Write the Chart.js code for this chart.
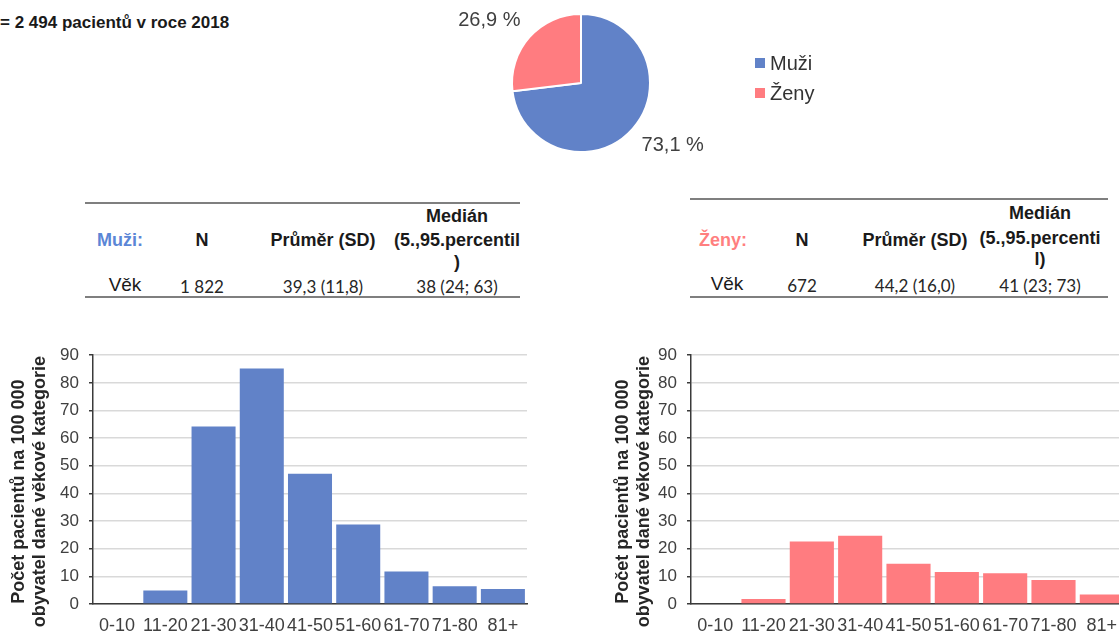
<!DOCTYPE html>
<html lang="cs">
<head>
<meta charset="utf-8">
<title>Pacienti podle pohlaví a věku 2018</title>
<script src="https://cdn.jsdelivr.net/npm/chart.js@4/dist/chart.umd.min.js"></script>
<style>
  html, body { margin: 0; padding: 0; width: 1119px; height: 633px; overflow: hidden; background: #fff; }
  body { position: relative; font-family: "Liberation Sans", Arial, Helvetica, sans-serif; color: #1a1a1a; }
  canvas { position: absolute; }
  .note { position: absolute; left: 0; top: 12px; font-size: 17px; font-weight: bold; white-space: nowrap; line-height: 22px; }
  .tbl { position: absolute; overflow: hidden; }
  .rule { position: absolute; height: 2px; background: #7f7f7f; }
  .c { position: absolute; width: 300px; height: 24px; line-height: 24px; text-align: center; white-space: nowrap; }
  .h { font-weight: bold; font-size: 18px; }
  .lbl { font-size: 19px; color: #1a1a1a; }
  .num { font-family: Lato, "Open Sans", sans-serif; font-size: 17px; color: #262626; }
</style>
</head>
<body>
<div class="note">= 2 494 pacientů v roce 2018</div>

<canvas id="pie" width="400" height="170" style="left:430px; top:0px;"></canvas>

<div id="tblMen" class="tbl" style="left:85px; top:190px; width:435px; height:112px;"></div>
<div id="tblWomen" class="tbl" style="left:690px; top:186px; width:418px; height:116px;"></div>

<canvas id="barMen" width="545" height="298" style="left:0px; top:335px;"></canvas>
<canvas id="barWomen" width="540" height="298" style="left:604px; top:335px;"></canvas>

<script>
// ---- data ----
const sexLabels = ['Muži', 'Ženy'];
const sexShare = [73.1, 26.9];
const sexColors = ['#6182c8', '#ff7c80'];

const ageGroups = ['0-10', '11-20', '21-30', '31-40', '41-50', '51-60', '61-70', '71-80', '81+'];
const menRate = [0, 4.9, 64.2, 85.2, 47.1, 28.8, 11.8, 6.4, 5.4];
const womenRate = [0, 1.8, 22.6, 24.7, 14.6, 11.6, 11.1, 8.7, 3.4];
const rateMax = 90;
const rateStep = 10;
const rateTitle = ['Počet pacientů na 100 000', 'obyvatel dané věkové kategorie'];

const rowLabel = 'Věk';
const colN = 'N';
const colMean = 'Průměr (SD)';
const colMedianMen = ['Medián', '(5.,95.percentil', ')'];
const colMedianWomen = ['Medián', '(5.,95.percenti', 'l)'];
const menStats = ['1 822', '39,3 (11,8)', '38 (24; 63)'];
const womenStats = ['672', '44,2 (16,0)', '41 (23; 73)'];

const FONT = '"Liberation Sans", Arial, Helvetica, sans-serif';

// ---- summary tables ----
function cell(parent, text, cx, cy, cls, color) {
  const d = document.createElement('div');
  d.className = 'c ' + cls;
  d.textContent = text;
  d.style.left = (cx - 150) + 'px';
  d.style.top = (cy - 12) + 'px';
  if (color) d.style.color = color;
  parent.appendChild(d);
}
function rule(parent, y, width) {
  const d = document.createElement('div');
  d.className = 'rule';
  d.style.left = '0px';
  d.style.top = (y - 1) + 'px';
  d.style.width = width + 'px';
  parent.appendChild(d);
}
function buildTable(el, name, color, medianLines, stats, g) {
  const w = el.offsetWidth;
  rule(el, g.top, w);
  rule(el, g.bottom, w);
  cell(el, name, g.x[0], g.head, 'h', color);
  cell(el, colN, g.x[1], g.head, 'h');
  cell(el, colMean, g.x[2], g.head, 'h');
  medianLines.forEach((t, i) => cell(el, t, g.x[3], g.medY[i], 'h'));
  cell(el, rowLabel, g.lx, g.row - 2, 'lbl');
  stats.forEach((t, i) => cell(el, t, g.x[i + 1], g.row, 'num'));
}
buildTable(document.getElementById('tblMen'), sexLabels[0] + ':', '#5b86d6', colMedianMen, menStats,
  { top: 13, bottom: 107, head: 50, medY: [26, 50, 72], row: 97, lx: 40, x: [35, 117, 238, 372] });
buildTable(document.getElementById('tblWomen'), sexLabels[1] + ':', '#ff7f7f', colMedianWomen, womenStats,
  { top: 13, bottom: 111, head: 54, medY: [27, 52, 73], row: 100, lx: 37, x: [33, 112, 225, 350] });

// ---- pie: share of men and women ----
const pieDecor = {
  id: 'pieDecor',
  afterDatasetsDraw(chart) {
    const ctx = chart.ctx;
    const ds = chart.data.datasets[0];
    const meta = chart.getDatasetMeta(0);
    ctx.save();
    ctx.font = '20px ' + FONT;
    ctx.fillStyle = '#404040';
    ctx.textAlign = 'center';
    ctx.textBaseline = 'middle';
    meta.data.forEach((arc, i) => {
      const p = arc.getProps(['x', 'y', 'startAngle', 'endAngle', 'outerRadius'], true);
      const mid = (p.startAngle + p.endAngle) / 2;
      const dx = Math.cos(mid), dy = Math.sin(mid);
      const r = p.outerRadius + 12;
      const txt = ds.data[i].toFixed(1).replace('.', ',') + ' %';
      const w = ctx.measureText(txt).width;
      ctx.fillText(txt, p.x + r * dx + Math.sign(dx) * w / 2, p.y + r * dy + Math.sign(dy) * 9);
    });
    // legend
    ctx.textAlign = 'left';
    chart.data.labels.forEach((lab, i) => {
      const y = 63 + i * 30;
      ctx.fillStyle = ds.backgroundColor[i];
      ctx.fillRect(325, y - 5, 10, 10);
      ctx.fillStyle = '#333333';
      ctx.fillText(lab, 340, y + 1);
    });
    ctx.restore();
  }
};

new Chart(document.getElementById('pie'), {
  type: 'pie',
  data: {
    labels: sexLabels,
    datasets: [{ data: sexShare, backgroundColor: sexColors, borderColor: '#ffffff', borderWidth: 2 }]
  },
  options: {
    responsive: false,
    animation: false,
    layout: { padding: { left: 81, right: 179, top: 13, bottom: 17 } },
    plugins: { legend: { display: false }, tooltip: { enabled: false } }
  },
  plugins: [pieDecor]
});

// ---- value axis title, two rotated lines set slightly below the axis middle ----
const axisTitle = {
  id: 'axisTitle',
  afterDraw(chart) {
    const s = chart.scales.y;
    const ctx = chart.ctx;
    const lh = 21;
    ctx.save();
    ctx.font = 'bold 18px ' + FONT;
    ctx.fillStyle = '#262626';
    ctx.textAlign = 'center';
    ctx.textBaseline = 'middle';
    rateTitle.forEach((line, i) => {
      ctx.save();
      ctx.translate(s.left + 19 + i * lh, (s.top + s.bottom) / 2 + 12);
      ctx.rotate(-Math.PI / 2);
      ctx.fillText(line, 0, 0);
      ctx.restore();
    });
    ctx.restore();
  }
};

// ---- age distribution bars ----
function ageChart(id, values, color, axisWidth) {
  return new Chart(document.getElementById(id), {
    type: 'bar',
    data: {
      labels: ageGroups,
      datasets: [{ data: values, backgroundColor: color, borderWidth: 0, barPercentage: 0.913, categoryPercentage: 1 }]
    },
    options: {
      responsive: false,
      animation: false,
      layout: { padding: { top: 14, right: 18, bottom: 0, left: 0 } },
      plugins: { legend: { display: false }, tooltip: { enabled: false } },
      scales: {
        x: {
          grid: { display: false, drawTicks: false },
          border: { display: true, color: '#3a3a3a', width: 1.5 },
          ticks: { color: '#404040', font: { family: FONT, size: 18 }, padding: 11, maxRotation: 0, autoSkip: false },
          afterFit(s) { s.height = 29; }
        },
        y: {
          min: 0,
          max: rateMax,
          ticks: { stepSize: rateStep, color: '#404040', font: { family: FONT, size: 17 }, padding: 10 },
          grid: { color: '#d9d9d9', lineWidth: 1.5, tickLength: 4, tickColor: '#3a3a3a' },
          border: { color: '#3a3a3a', width: 1.5 },
          afterFit(s) { s.width = axisWidth; }
        }
      }
    },
    plugins: [axisTitle]
  });
}
ageChart('barMen', menRate, sexColors[0], 93);
ageChart('barWomen', womenRate, sexColors[1], 87);
</script>
</body>
</html>
